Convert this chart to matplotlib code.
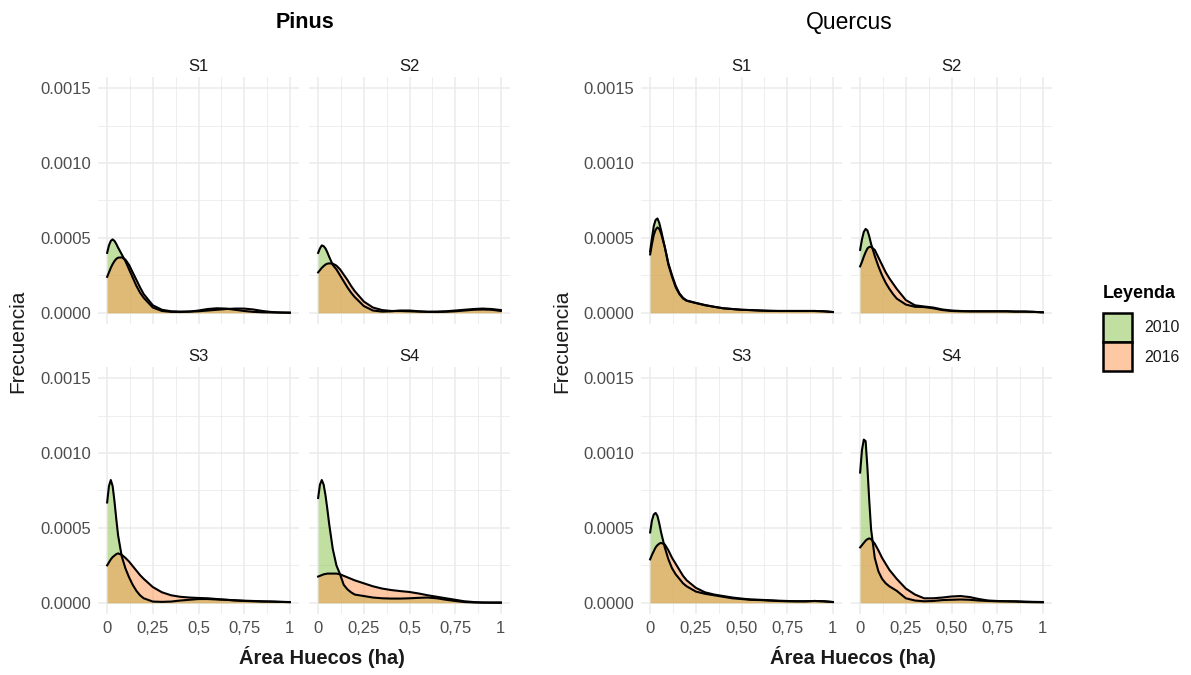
import matplotlib
matplotlib.use("Agg")
import matplotlib.pyplot as plt
from matplotlib.patches import Rectangle

plt.rcParams['font.family'] = ['Liberation Sans', 'DejaVu Sans']

# ---- data (density values in units of 1e-4) ----
x_area = [0, .01, .02, .03, .04, .05, .06, .08, .10, .12, .14, .16, .18, .20,
          .25, .30, .35, .40, .45, .50, .55, .60, .65, .70, .75, .80, .85, .90, .95, 1.0]

pinus_s1_2010 = [4.0, 4.5, 4.8, 4.9, 4.8, 4.6, 4.35, 3.9, 3.45, 2.9, 2.35, 1.8, 1.35, 1.0,
                 0.35, 0.12, 0.06, 0.05, 0.08, 0.15, 0.25, 0.3, 0.28, 0.2, 0.12, 0.06, 0.03, 0.02, 0.01, 0.0]
pinus_s1_2016 = [2.4, 2.7, 3.0, 3.25, 3.45, 3.6, 3.68, 3.7, 3.55, 3.2, 2.7, 2.2, 1.7, 1.25,
                 0.5, 0.2, 0.1, 0.08, 0.08, 0.1, 0.15, 0.2, 0.25, 0.28, 0.28, 0.22, 0.12, 0.05, 0.02, 0.01]
pinus_s2_2010 = [4.0, 4.3, 4.5, 4.45, 4.3, 4.05, 3.75, 3.2, 2.9, 2.5, 2.1, 1.7, 1.35, 1.05,
                 0.45, 0.15, 0.08, 0.1, 0.15, 0.15, 0.1, 0.06, 0.05, 0.07, 0.1, 0.15, 0.2, 0.22, 0.2, 0.12]
pinus_s2_2016 = [2.7, 2.85, 3.0, 3.12, 3.22, 3.28, 3.3, 3.28, 3.15, 2.9, 2.55, 2.2, 1.8, 1.45,
                 0.75, 0.35, 0.18, 0.12, 0.12, 0.1, 0.08, 0.07, 0.08, 0.1, 0.15, 0.2, 0.25, 0.28, 0.25, 0.18]
pinus_s3_2010 = [6.7, 7.8, 8.2, 7.8, 6.8, 5.6, 4.5, 3.1, 2.3, 1.7, 1.2, 0.8, 0.5, 0.3,
                 0.08, 0.06, 0.08, 0.15, 0.2, 0.25, 0.25, 0.22, 0.2, 0.15, 0.12, 0.1, 0.08, 0.08, 0.06, 0.04]
pinus_s3_2016 = [2.5, 2.7, 2.9, 3.05, 3.15, 3.25, 3.3, 3.2, 3.0, 2.75, 2.45, 2.15, 1.85, 1.6,
                 1.05, 0.7, 0.5, 0.4, 0.35, 0.32, 0.3, 0.25, 0.2, 0.17, 0.14, 0.12, 0.1, 0.08, 0.06, 0.05]
pinus_s4_2010 = [7.0, 7.9, 8.2, 7.9, 7.2, 6.3, 5.3, 3.6, 2.5, 1.9, 1.2, 0.9, 0.7, 0.55,
                 0.45, 0.35, 0.3, 0.28, 0.28, 0.3, 0.33, 0.35, 0.3, 0.2, 0.12, 0.05, 0.02, 0.01, 0.0, 0.0]
pinus_s4_2016 = [1.75, 1.8, 1.85, 1.9, 1.92, 1.95, 1.95, 1.95, 1.95, 1.9, 1.8, 1.7, 1.6, 1.5,
                 1.3, 1.1, 0.95, 0.85, 0.78, 0.72, 0.62, 0.5, 0.4, 0.3, 0.2, 0.1, 0.05, 0.02, 0.02, 0.02]

quercus_s1_2010 = [4.1, 5.0, 5.8, 6.2, 6.3, 6.0, 5.5, 4.4, 3.2, 2.4, 1.7, 1.25, 0.95, 0.8,
                   0.65, 0.5, 0.4, 0.3, 0.25, 0.2, 0.18, 0.15, 0.13, 0.12, 0.12, 0.12, 0.12, 0.12, 0.1, 0.05]
quercus_s1_2016 = [3.9, 4.6, 5.2, 5.55, 5.7, 5.6, 5.3, 4.4, 3.3, 2.5, 1.8, 1.3, 1.0, 0.82,
                   0.66, 0.52, 0.4, 0.3, 0.25, 0.2, 0.18, 0.15, 0.13, 0.12, 0.12, 0.12, 0.12, 0.12, 0.1, 0.05]
quercus_s2_2010 = [4.2, 4.9, 5.4, 5.6, 5.5, 5.1, 4.6, 3.8, 3.1, 2.5, 2.0, 1.6, 1.25, 0.95,
                   0.55, 0.4, 0.38, 0.3, 0.18, 0.12, 0.1, 0.1, 0.1, 0.1, 0.1, 0.1, 0.08, 0.08, 0.06, 0.03]
quercus_s2_2016 = [3.1, 3.4, 3.75, 4.05, 4.3, 4.4, 4.4, 4.2, 3.7, 3.2, 2.7, 2.3, 1.95, 1.6,
                   0.85, 0.5, 0.42, 0.35, 0.22, 0.15, 0.12, 0.1, 0.1, 0.1, 0.1, 0.1, 0.08, 0.08, 0.06, 0.03]
quercus_s3_2010 = [4.7, 5.5, 5.9, 6.0, 5.8, 5.3, 4.7, 3.7, 2.9, 2.3, 1.9, 1.6, 1.3, 1.1,
                   0.75, 0.6, 0.5, 0.4, 0.3, 0.25, 0.2, 0.18, 0.15, 0.12, 0.1, 0.1, 0.1, 0.12, 0.1, 0.05]
quercus_s3_2016 = [2.9, 3.2, 3.45, 3.7, 3.85, 3.95, 4.0, 3.9, 3.5, 3.0, 2.6, 2.2, 1.8, 1.5,
                   1.0, 0.7, 0.55, 0.45, 0.35, 0.28, 0.22, 0.2, 0.17, 0.14, 0.12, 0.1, 0.1, 0.12, 0.1, 0.05]
quercus_s4_2010 = [8.7, 10.2, 10.9, 10.8, 9.0, 6.8, 4.9, 3.0, 2.1, 1.6, 1.3, 1.1, 0.95, 0.8,
                   0.3, 0.15, 0.1, 0.12, 0.18, 0.2, 0.22, 0.2, 0.15, 0.12, 0.1, 0.1, 0.08, 0.05, 0.04, 0.03]
quercus_s4_2016 = [3.7, 3.85, 4.0, 4.15, 4.25, 4.3, 4.25, 3.95, 3.5, 3.0, 2.6, 2.2, 1.9, 1.6,
                   0.95, 0.55, 0.3, 0.3, 0.35, 0.42, 0.45, 0.38, 0.25, 0.15, 0.12, 0.1, 0.1, 0.08, 0.06, 0.05]

value_scale = 1e-4
genera = ["Pinus", "Quercus"]
sites = ["S1", "S2", "S3", "S4"]
years = ["2010", "2016"]
y_ticks = [0.0, 0.0005, 0.0010, 0.0015]
y_tick_labels = ["0.0000", "0.0005", "0.0010", "0.0015"]
x_ticks = [0, 0.25, 0.5, 0.75, 1.0]
x_tick_labels = {"Pinus": ["0", "0,25", "0,5", "0,75", "1"],
                 "Quercus": ["0", "0,25", "0,50", "0,75", "1"]}

series = {
    ("Pinus", "S1"): (pinus_s1_2010, pinus_s1_2016),
    ("Pinus", "S2"): (pinus_s2_2010, pinus_s2_2016),
    ("Pinus", "S3"): (pinus_s3_2010, pinus_s3_2016),
    ("Pinus", "S4"): (pinus_s4_2010, pinus_s4_2016),
    ("Quercus", "S1"): (quercus_s1_2010, quercus_s1_2016),
    ("Quercus", "S2"): (quercus_s2_2010, quercus_s2_2016),
    ("Quercus", "S3"): (quercus_s3_2010, quercus_s3_2016),
    ("Quercus", "S4"): (quercus_s4_2010, quercus_s4_2016),
}

fill_colors = {"2010": "#87C34B", "2016": "#FC9650"}
fill_alpha = 0.52

W, H = 1191, 675
fig = plt.figure(figsize=(W / 100, H / 100), dpi=100)
fig.patch.set_facecolor("white")

col_left = {"Pinus": [98, 309], "Quercus": [641, 851]}
row_top = [77, 367]
pw, ph = 201, 247

grid_col = "#EBEBEB"
tick_col = "#4D4D4D"

for g in genera:
    for i, s in enumerate(sites):
        r, c = divmod(i, 2)
        lx = col_left[g][c]
        ty = row_top[r]
        ax = fig.add_axes([lx / W, 1 - (ty + ph) / H, pw / W, ph / H])
        ax.set_xlim(-0.05, 1.05)
        ax.set_ylim(-0.000075, 0.001575)
        ax.set_xticks(x_ticks)
        ax.set_xticks([0.125, 0.375, 0.625, 0.875], minor=True)
        ax.set_yticks(y_ticks)
        ax.set_yticks([0.00025, 0.00075, 0.00125], minor=True)
        ax.grid(which="major", color=grid_col, lw=1.1, zorder=0)
        ax.grid(which="minor", color=grid_col, lw=0.6, zorder=0)
        ax.set_axisbelow(True)
        for sp in ax.spines.values():
            sp.set_visible(False)
        ax.tick_params(which="both", length=0, pad=5, labelsize=12, labelcolor=tick_col)
        if c == 0:
            ax.set_yticklabels(y_tick_labels)
        else:
            ax.set_yticklabels([])
        if r == 1:
            ax.set_xticklabels(x_tick_labels[g])
        else:
            ax.set_xticklabels([])
        ax.set_title(s, fontsize=12, color="#1A1A1A", pad=4)

        for yr, vals in zip(years, series[(g, s)]):
            yv = [v * value_scale for v in vals]
            ax.fill_between(x_area, 0, yv, color=fill_colors[yr], alpha=fill_alpha, lw=0, zorder=2)
            ax.plot(x_area, yv, color="black", lw=1.5, zorder=3, solid_joinstyle="round")

# Titles
fig.text(305 / W, 1 - 22 / H, "Pinus", ha="center", va="center", fontsize=15.5, fontweight="bold")
fig.text(849 / W, 1 - 22 / H, "Quercus", ha="center", va="center", fontsize=16.5)

# Axis titles
for g, xc in (("Pinus", 322), ("Quercus", 853)):
    fig.text(xc / W, 1 - 657 / H, "Área Huecos (ha)", ha="center", va="center",
             fontsize=14.5, fontweight="bold", color="#1A1A1A")
for xc in (18, 562):
    fig.text(xc / W, 1 - 341 / H, "Frecuencia", ha="center", va="center",
             rotation=90, fontsize=15, color="#1A1A1A")

# Legend
fig.text(1103 / W, 1 - 293 / H, "Leyenda", ha="left", va="center", fontsize=13, fontweight="bold")
key_x, key_w = 1103, 29
key_rows = [(313, "2010"), (342, "2016")]
for top, yr in key_rows:
    fig.patches.append(Rectangle((key_x / W, 1 - (top + 29) / H), key_w / W, 29 / H,
                                 transform=fig.transFigure, facecolor="white", edgecolor="none"))
    fig.patches.append(Rectangle((key_x / W, 1 - (top + 29) / H), key_w / W, 29 / H,
                                 transform=fig.transFigure, facecolor=fill_colors[yr],
                                 alpha=fill_alpha, edgecolor="none"))
    fig.patches.append(Rectangle((key_x / W, 1 - (top + 29) / H), key_w / W, 29 / H,
                                 transform=fig.transFigure, facecolor="none",
                                 edgecolor="black", lw=1.8))
    fig.text((key_x + key_w + 12) / W, 1 - (top + 15) / H, yr, ha="left", va="center",
             fontsize=11.5, color="#1A1A1A")

fig.savefig("out.png", dpi=100, facecolor="white")
